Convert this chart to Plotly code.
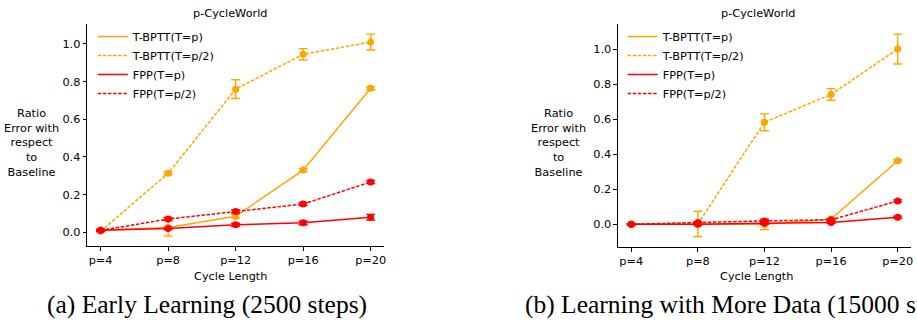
import plotly.graph_objects as go

# ---- data -----------------------------------------------------------------
cycle_labels = ["p=4", "p=8", "p=12", "p=16", "p=20"]
series_names = ["T-BPTT(T=p)", "T-BPTT(T=p/2)", "FPP(T=p)", "FPP(T=p/2)"]

# (a) early learning, 2500 steps
early_tbptt_p = [0.010, 0.025, 0.085, 0.330, 0.765]
early_tbptt_p_err = [0.005, 0.044, 0.010, 0.008, 0.008]
early_tbptt_p2 = [0.005, 0.313, 0.760, 0.945, 1.010]
early_tbptt_p2_err = [0.005, 0.008, 0.050, 0.030, 0.042]
early_fpp_p = [0.010, 0.020, 0.040, 0.050, 0.080]
early_fpp_p_err = [0.005, 0.006, 0.008, 0.010, 0.015]
early_fpp_p2 = [0.010, 0.070, 0.110, 0.150, 0.267]
early_fpp_p2_err = [0.005, 0.008, 0.008, 0.008, 0.008]

# (b) learning with more data, 15000 steps
late_tbptt_p = [0.000, 0.000, 0.000, 0.030, 0.362]
late_tbptt_p_err = [0.003, 0.005, 0.031, 0.005, 0.006]
late_tbptt_p2 = [0.000, 0.002, 0.582, 0.741, 1.000]
late_tbptt_p2_err = [0.003, 0.072, 0.048, 0.033, 0.085]
late_fpp_p = [0.000, 0.000, 0.005, 0.010, 0.040]
late_fpp_p_err = [0.003, 0.005, 0.005, 0.005, 0.006]
late_fpp_p2 = [0.000, 0.010, 0.019, 0.025, 0.133]
late_fpp_p2_err = [0.003, 0.005, 0.005, 0.005, 0.006]

y_ticks = [0.0, 0.2, 0.4, 0.6, 0.8, 1.0]

# ---- styling --------------------------------------------------------------
W, H = 917, 321
FONT = "DejaVu Sans"
FS = 11.3
ORANGE = "#FFA500"
RED = "#FF0000"
DASH = "3.5px,1.6px"
styles = [(ORANGE, "solid"), (ORANGE, DASH), (RED, "solid"), (RED, DASH)]


def px_x(x):
    return x / W


def px_y(y):
    return 1 - y / H


fig = go.Figure()
x_idx = list(range(len(cycle_labels)))

panels = [
    dict(xa="x", ya="y", legend="legend",
         vals=[early_tbptt_p, early_tbptt_p2, early_fpp_p, early_fpp_p2],
         errs=[early_tbptt_p_err, early_tbptt_p2_err, early_fpp_p_err, early_fpp_p2_err]),
    dict(xa="x2", ya="y2", legend="legend2",
         vals=[late_tbptt_p, late_tbptt_p2, late_fpp_p, late_fpp_p2],
         errs=[late_tbptt_p_err, late_tbptt_p2_err, late_fpp_p_err, late_fpp_p2_err]),
]

for panel in panels:
    for name, (color, dash), vals, errs in zip(series_names, styles, panel["vals"], panel["errs"]):
        fig.add_trace(go.Scatter(
            x=x_idx, y=vals, xaxis=panel["xa"], yaxis=panel["ya"],
            mode="lines+markers", name=name, showlegend=False,
            line=dict(color=color, width=1.5, dash=dash),
            marker=dict(color=color, size=7, symbol="circle"),
            error_y=dict(type="data", array=errs, visible=True,
                         color=color, thickness=1.4, width=4.5),
        ))
    # legend entries show only the line style
    for name, (color, dash) in zip(series_names, styles):
        fig.add_trace(go.Scatter(
            x=[None], y=[None], xaxis=panel["xa"], yaxis=panel["ya"],
            mode="lines", name=name, legend=panel["legend"],
            line=dict(color=color, width=1.5, dash=dash),
        ))

axis_common = dict(
    showline=True, linecolor="black", linewidth=1, mirror=False,
    ticks="outside", ticklen=3.5, tickwidth=1, tickcolor="black",
    showgrid=False, zeroline=False, fixedrange=True,
    tickfont=dict(family=FONT, size=FS, color="black"),
)

legend_common = dict(
    xanchor="left", yanchor="top", bgcolor="rgba(0,0,0,0)", borderwidth=0,
    font=dict(family=FONT, size=FS, color="black"),
)

fig.update_layout(
    width=W, height=H, autosize=False,
    margin=dict(l=0, r=0, t=0, b=0),
    paper_bgcolor="white", plot_bgcolor="white",
    font=dict(family=FONT, size=FS, color="black"),
    xaxis=dict(domain=[px_x(87.3), px_x(385)], range=[-0.2, 4.2],
               tickvals=x_idx, ticktext=cycle_labels, anchor="y", **axis_common),
    yaxis=dict(domain=[px_y(246), px_y(24)], range=[-0.073, 1.106],
               tickvals=y_ticks, ticktext=[f"{v:.1f}" for v in y_ticks],
               anchor="x", **axis_common),
    xaxis2=dict(domain=[px_x(619.3), px_x(913)], range=[-0.2, 4.2],
                tickvals=x_idx, ticktext=cycle_labels, anchor="y2", **axis_common),
    yaxis2=dict(domain=[px_y(247), px_y(24)], range=[-0.13, 1.143],
                tickvals=y_ticks, ticktext=[f"{v:.1f}" for v in y_ticks],
                anchor="x2", **axis_common),
    legend=dict(x=px_x(93), y=px_y(22), **legend_common),
    legend2=dict(x=px_x(624), y=px_y(22), **legend_common),
)

ylabel = "Ratio<br>Error with<br>respect<br>to<br>Baseline"
texts = [
    # panel titles
    dict(text="p-CycleWorld", x=231, y=13),
    dict(text="p-CycleWorld", x=760, y=13),
    # x-axis titles
    dict(text="Cycle Length", x=231, y=276),
    dict(text="Cycle Length", x=758, y=276),
    # y-axis titles
    dict(text=ylabel, x=32, y=143),
    dict(text=ylabel, x=560, y=143),
]
for t in texts:
    fig.add_annotation(
        text=t["text"], xref="paper", yref="paper",
        x=px_x(t["x"]), y=px_y(t["y"]), xanchor="center", yanchor="middle",
        showarrow=False, align="center",
        font=dict(family=FONT, size=FS, color="black"),
    )

# sub-figure captions
captions = [
    ("(a) Early Learning (2500 steps)", 45),
    ("(b) Learning with More Data (15000 steps)", 524),
]
for text, x0 in captions:
    fig.add_annotation(
        text=text, xref="paper", yref="paper",
        x=px_x(x0), y=px_y(304), xanchor="left", yanchor="middle",
        showarrow=False,
        font=dict(family="Liberation Serif", size=25.5, color="black"),
    )

fig.write_html("out.html")
